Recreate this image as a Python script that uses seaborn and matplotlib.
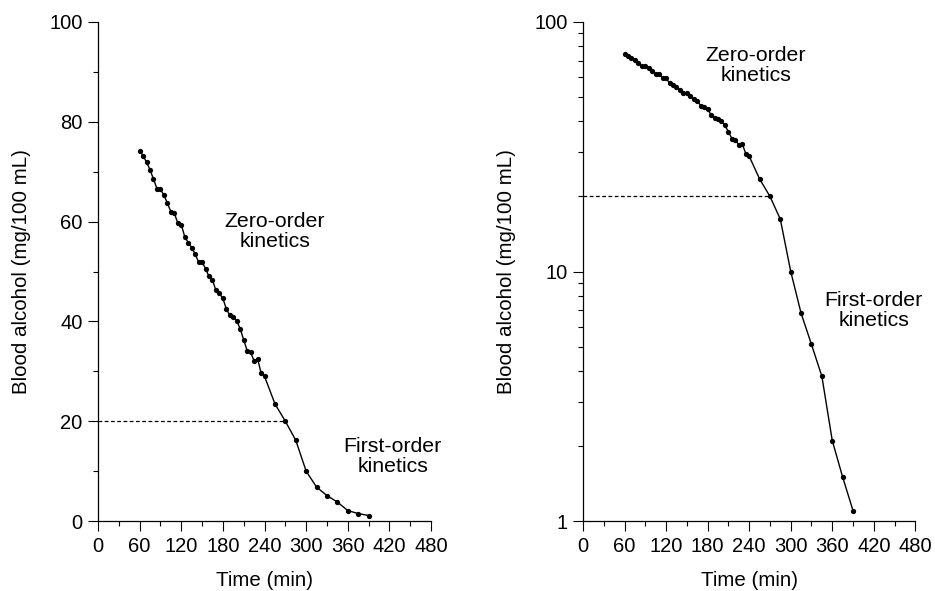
import numpy as np
import pandas as pd
import matplotlib
matplotlib.use("Agg")
import matplotlib.pyplot as plt
from matplotlib.ticker import MultipleLocator, LogLocator, FixedFormatter, NullFormatter, FixedLocator
import seaborn as sns

# Blood alcohol curve (same data on both panels)
time_min = [60, 65, 70, 75, 80, 85, 90, 95, 100, 105, 110, 115, 120, 125, 130,
            135, 140, 145, 150, 155, 160, 165, 170, 175, 180, 185, 190, 195, 200,
            205, 210, 215, 220, 225, 230, 235, 240,
            255, 270, 285, 300, 315, 330, 345, 360, 375, 390]
blood_alcohol = [74.2, 73.2, 71.9, 70.4, 68.5, 66.6, 66.5, 65.3, 63.7, 62.0, 61.7,
                 59.7, 59.4, 57.0, 55.8, 54.8, 53.5, 51.9, 51.9, 50.6, 49.0, 48.3,
                 46.2, 45.6, 44.6, 42.5, 41.2, 40.9, 40.1, 38.5, 36.3, 34.1, 33.8,
                 32.1, 32.5, 29.7, 29.0,
                 23.5, 20.0, 16.2, 10.0, 6.8, 5.1, 3.8, 2.1, 1.5, 1.1]

# threshold where kinetics switch
switch_time = 270
switch_level = 20

x_ticks = [0, 60, 120, 180, 240, 300, 360, 420, 480]

df = pd.DataFrame({"Time": time_min, "Alcohol": blood_alcohol})

sns.set_style("ticks")
plt.rcParams["font.family"] = ["Liberation Sans", "DejaVu Sans"]
plt.rcParams["axes.linewidth"] = 0.9
for key in ["text.color", "axes.labelcolor", "xtick.color", "ytick.color", "axes.edgecolor"]:
    plt.rcParams[key] = "black"

fig = plt.figure(figsize=(9.35, 5.91), dpi=100)
ax1 = fig.add_axes([0.1048, 0.1184, 0.3562, 0.8444])
ax2 = fig.add_axes([0.6235, 0.1184, 0.3555, 0.8444])

for ax in (ax1, ax2):
    sns.lineplot(data=df, x="Time", y="Alcohol", ax=ax, color="black",
                 linewidth=1.0, marker="o", markersize=3.8,
                 markeredgewidth=0, markerfacecolor="black")
    ax.plot([0, switch_time], [switch_level, switch_level], color="black",
            linestyle=(0, (3, 2)), linewidth=0.9)
    ax.set_xlim(0, 480)
    ax.xaxis.set_major_locator(FixedLocator(x_ticks))
    ax.xaxis.set_minor_locator(MultipleLocator(30))
    ax.set_xlabel("Time (min)", fontsize=14.8, labelpad=11)
    ax.set_ylabel("Blood alcohol (mg/100 mL)", fontsize=14.8, labelpad=13)
    ax.tick_params(which="major", direction="out", length=7.2, width=0.8,
                   labelsize=14.5, pad=4)
    ax.tick_params(which="minor", direction="out", length=3.6, width=0.8)
    sns.despine(ax=ax)

# left: linear
ax1.set_ylim(0, 100)
ax1.yaxis.set_major_locator(MultipleLocator(20))
ax1.yaxis.set_minor_locator(MultipleLocator(10))
ax1.text(255, 58, "Zero-order\nkinetics", ha="center", va="center", fontsize=15.3,
         linespacing=1.05)
ax1.text(425, 13, "First-order\nkinetics", ha="center", va="center", fontsize=15.3,
         linespacing=1.05)

# right: log
ax2.set_yscale("log")
ax2.set_ylim(1, 100)
ax2.yaxis.set_major_locator(FixedLocator([1, 10, 100]))
ax2.yaxis.set_major_formatter(FixedFormatter(["1", "10", "100"]))
ax2.yaxis.set_minor_locator(LogLocator(base=10, subs=np.arange(2, 10)))
ax2.yaxis.set_minor_formatter(NullFormatter())
ax2.text(250, 67, "Zero-order\nkinetics", ha="center", va="center", fontsize=15.3,
         linespacing=1.05)
ax2.text(420, 7.0, "First-order\nkinetics", ha="center", va="center", fontsize=15.3,
         linespacing=1.05)

fig.savefig("out.png", dpi=100)
